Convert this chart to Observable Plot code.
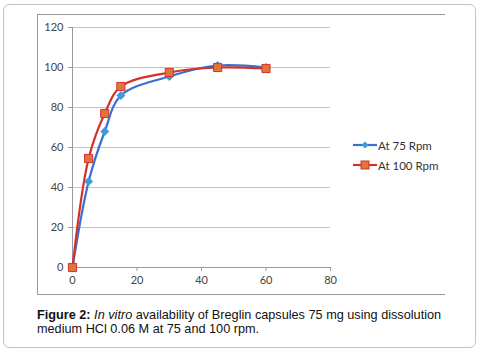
<!DOCTYPE html>
<html>
<head>
<meta charset="utf-8">
<script src="https://cdn.jsdelivr.net/npm/d3@7"></script>
<script src="https://cdn.jsdelivr.net/npm/@observablehq/plot@0.6"></script>
<style>
  html, body { margin: 0; padding: 0; background: #fff; }
  #wrap { position: relative; width: 487px; height: 354px; overflow: hidden; }
  #outer { position: absolute; left: 3px; top: 4px; width: 473px; height: 344px;
    border: 1px solid #c4c4c4; border-radius: 6px; box-sizing: border-box; }
  #frame { position: absolute; left: 37px; top: 14px; width: 408px; height: 281px;
    border-top: 1px solid #9a9a9a; border-left: 1px solid #9a9a9a; border-bottom: 1px solid #9a9a9a; box-sizing: border-box; }
  #chart { position: absolute; left: 37px; top: 14px; }
  #legend { position: absolute; left: 353px; top: 135px; font-family: Lato, "Open Sans", sans-serif; font-size: 11.5px; color: #333; }
  .li { display: flex; align-items: center; height: 20px; }
  .li svg { margin-right: 1px; }
  #caption { position: absolute; left: 37px; top: 308px; width: 430px; font-family: "Liberation Sans", Arial, sans-serif;
    font-size: 12.7px; line-height: 14px; color: #111; }
  #caption .lbl { font-weight: bold; }
  #caption .it { font-style: italic; }
</style>
</head>
<body>
<div id="wrap">
  <div id="outer"></div>
  <div id="frame"></div>
  <div id="chart"></div>
  <div id="legend"></div>
  <div id="caption"><span class="lbl">Figure 2:</span> <span class="it">In vitro</span> availability of Breglin capsules 75 mg using dissolution<br>medium HCl 0.06 M at 75 and 100 rpm.</div>
</div>
<script>
const times = [0, 5, 10, 15, 30, 45, 60];
const rpm75 = [0, 43, 68, 86, 95.5, 101, 100];
const rpm100 = [0, 54.5, 77, 90.5, 97.5, 100, 99.5];
const seriesNames = ["At 75 Rpm", "At 100 Rpm"];
const xTicks = [0, 20, 40, 60, 80];
const yTicks = [0, 20, 40, 60, 80, 100, 120];

const blueLine = "#3a6fd4", blueMark = "#3b9be0";
const redLine = "#d3322c", redMark = "#e0753a";

const d75 = times.map((t, i) => ({t, v: rpm75[i], s: seriesNames[0]}));
const d100 = times.map((t, i) => ({t, v: rpm100[i], s: seriesNames[1]}));

const chart = Plot.plot({
  width: 408, height: 281,
  marginLeft: 35, marginTop: 13, marginRight: 115, marginBottom: 28,
  style: { fontFamily: "Lato, 'Open Sans', sans-serif", fontSize: "11px", color: "#444", background: "transparent" },
  x: { domain: [0, 80] },
  y: { domain: [0, 120] },
  marks: [
    Plot.gridY(yTicks, { stroke: "#c4c4c4", strokeOpacity: 1 }),
    Plot.ruleX([0], { stroke: "#9a9a9a" }),
    Plot.ruleY([0], { stroke: "#9a9a9a" }),
    Plot.axisX(xTicks, { tickSize: 4, tickPadding: 5, stroke: "#9a9a9a", fill: "#444", label: null }),
    Plot.axisY(yTicks, { tickSize: 4, tickPadding: 5, stroke: "#9a9a9a", fill: "#444", label: null }),
    Plot.line(d75, { x: "t", y: "v", stroke: blueLine, strokeWidth: 2.2, curve: "catmull-rom" }),
    Plot.line(d100, { x: "t", y: "v", stroke: redLine, strokeWidth: 2.2, curve: "catmull-rom" }),
    Plot.dot(d75, { x: "t", y: "v", symbol: "diamond2", r: 3.8, fill: blueMark, stroke: blueMark, strokeWidth: 0.5 }),
    Plot.dot(d100, { x: "t", y: "v", symbol: "square", r: 4.6, fill: redMark, stroke: redLine, strokeWidth: 1 })
  ]
});
document.getElementById("chart").appendChild(chart);

const legend = document.getElementById("legend");
[[seriesNames[0], blueLine, blueMark, "d"], [seriesNames[1], redLine, redMark, "s"]].forEach(([name, lc, mc, sh]) => {
  const row = document.createElement("div");
  row.className = "li";
  const mark = sh === "d"
    ? `<polygon points="12,6.5 15.5,10 12,13.5 8.5,10" fill="${mc}"/>`
    : `<rect x="8" y="6" width="8" height="8" fill="${mc}" stroke="${lc}" stroke-width="1"/>`;
  row.innerHTML = `<svg width="24" height="20"><line x1="0" x2="24" y1="10" y2="10" stroke="${lc}" stroke-width="2.2"/>${mark}</svg><span>${name}</span>`;
  legend.appendChild(row);
});
</script>
</body>
</html>
